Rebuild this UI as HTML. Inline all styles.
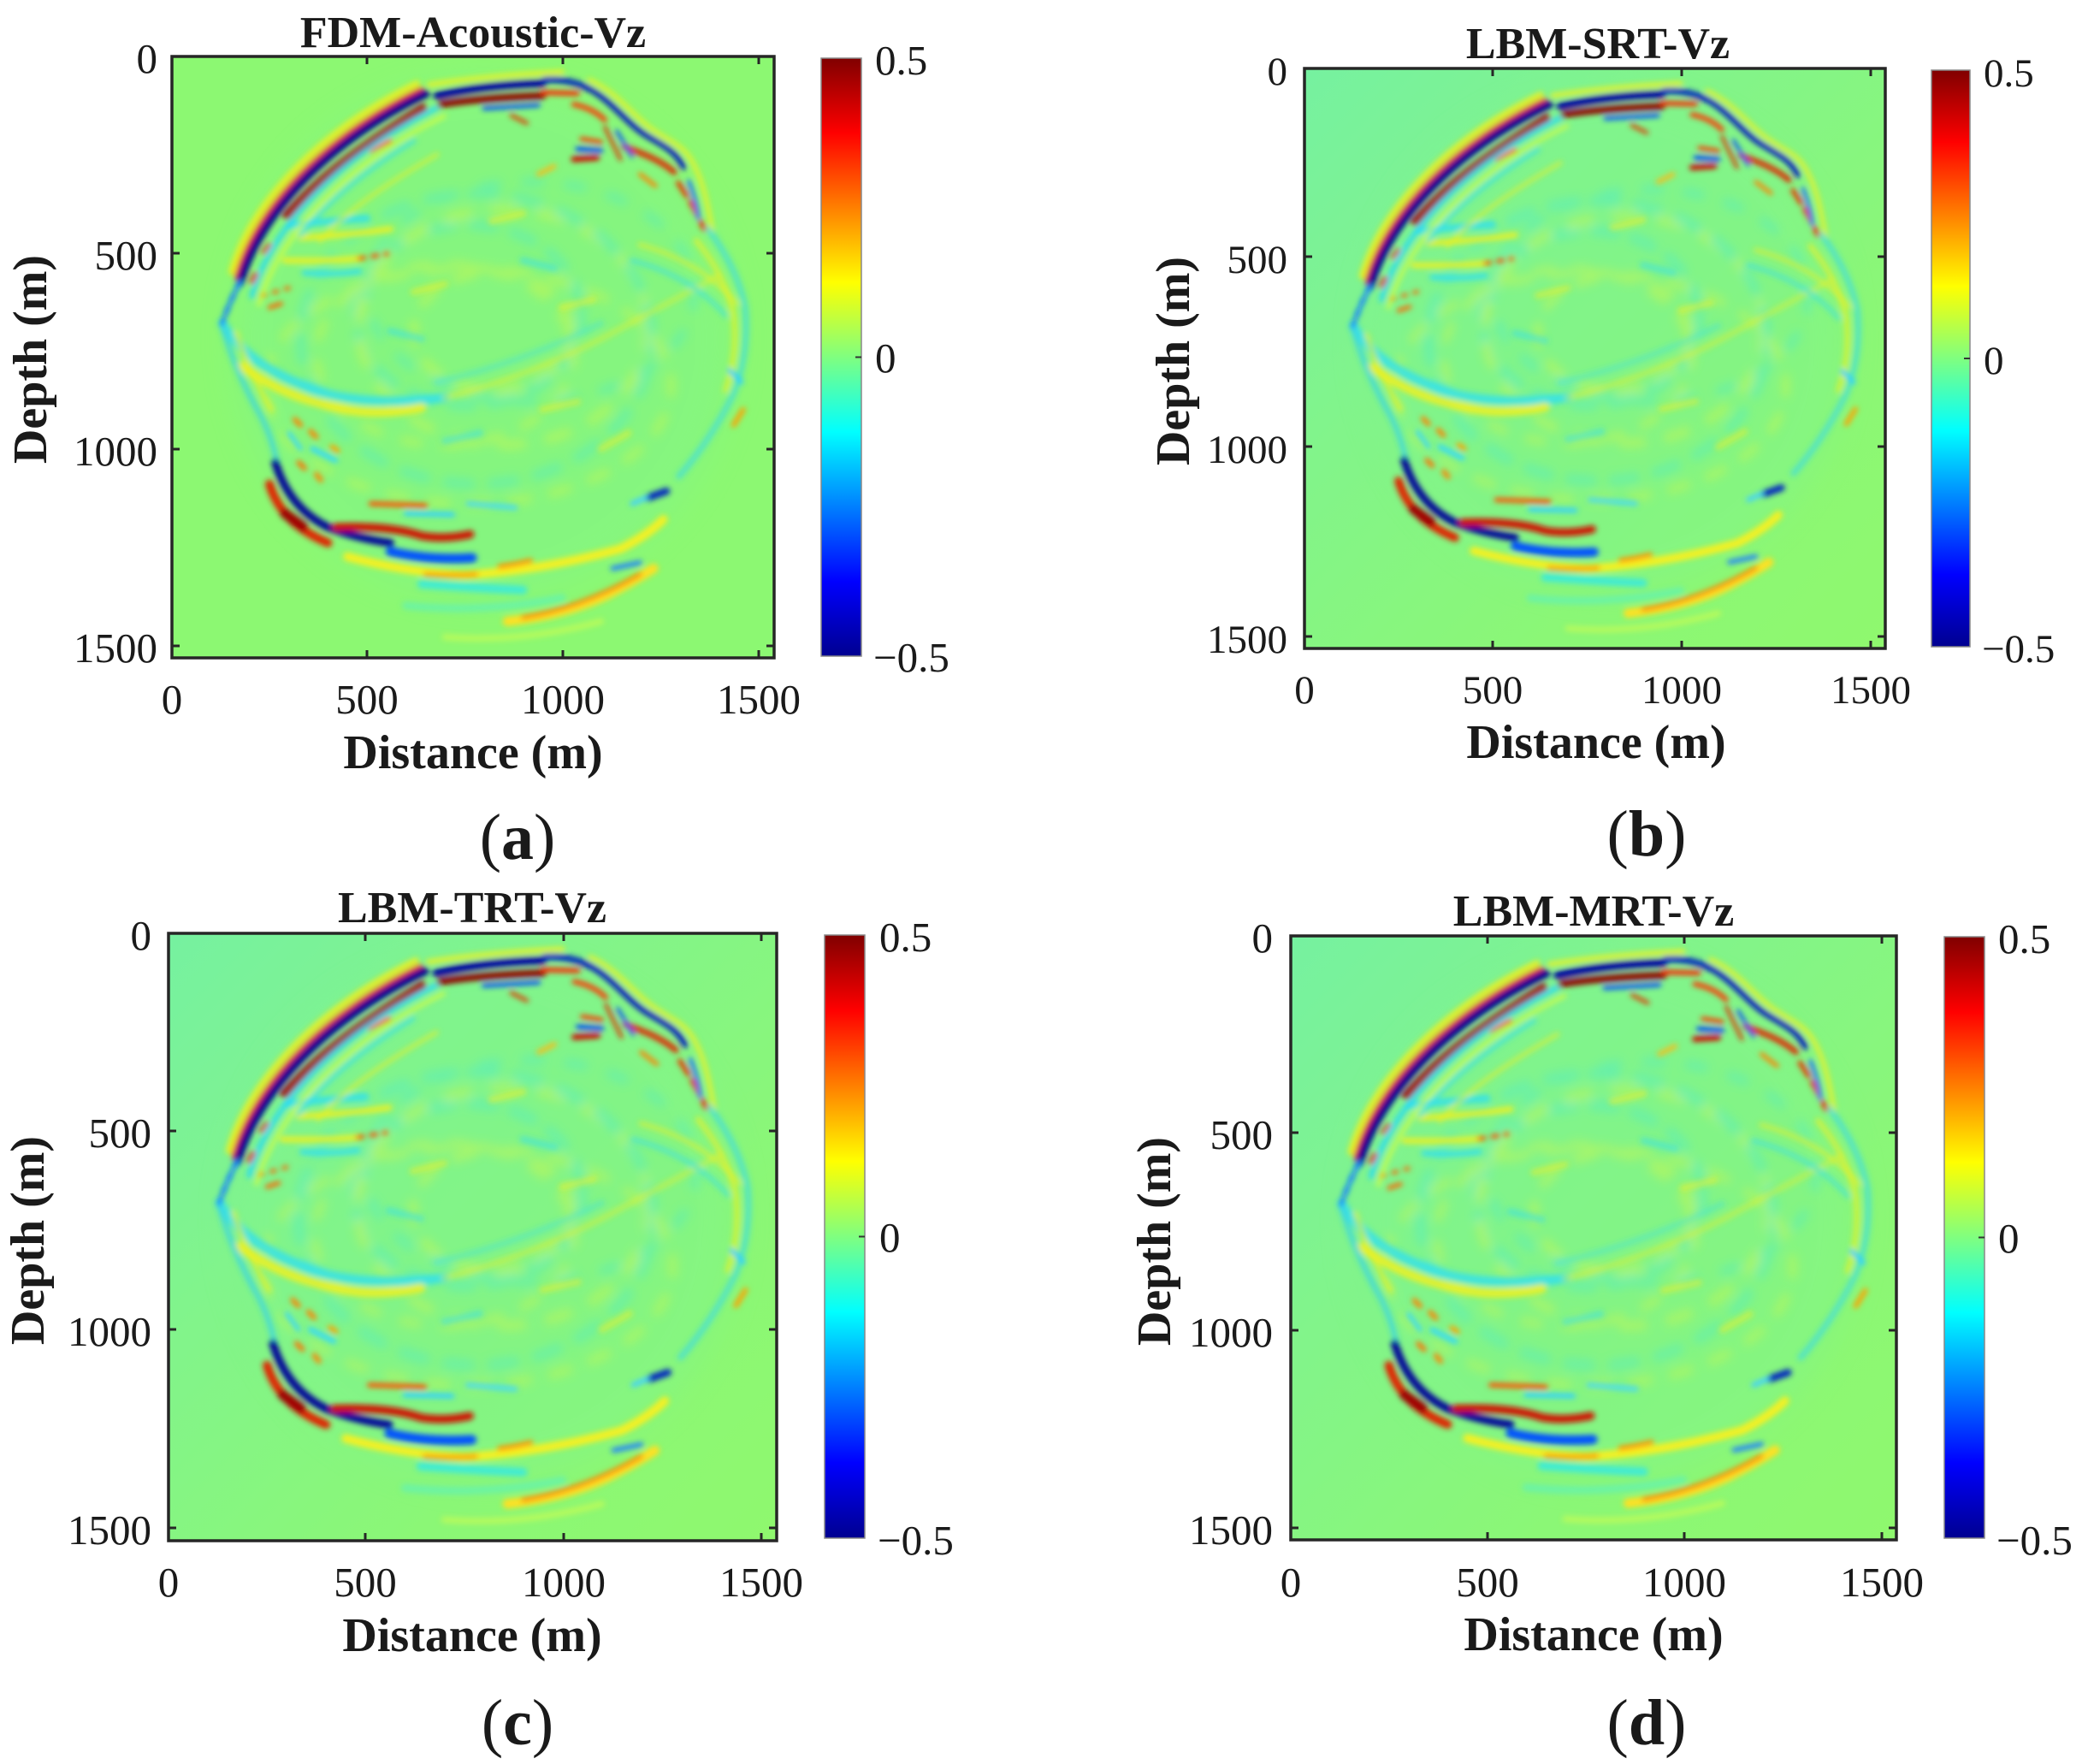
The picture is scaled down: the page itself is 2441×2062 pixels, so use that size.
<!DOCTYPE html>
<html><head><meta charset="utf-8"><style>
html,body{margin:0;padding:0;background:#fff;}
svg{display:block;}
text{font-family:"Liberation Serif","Times New Roman",serif;fill:#1a1a1a;}
.t{font-size:49px;}
.tb{font-size:47px;}
.ttl{font-size:52px;font-weight:bold;}
.ax{font-size:56px;font-weight:bold;}
.sub{font-size:76px;}
</style></head><body>
<svg width="2441" height="2062" viewBox="0 0 2441 2062" xmlns="http://www.w3.org/2000/svg">
<defs>
<linearGradient id="jet" x1="0" y1="1" x2="0" y2="0">
<stop offset="0" stop-color="#000090"/>
<stop offset="0.125" stop-color="#0000ff"/>
<stop offset="0.375" stop-color="#00ffff"/>
<stop offset="0.625" stop-color="#ffff00"/>
<stop offset="0.875" stop-color="#ff0000"/>
<stop offset="1" stop-color="#800000"/>
</linearGradient>
<linearGradient id="bgB" x1="0" y1="0" x2="1" y2="1">
<stop offset="0" stop-color="#76f1a0"/>
<stop offset="0.35" stop-color="#82f48a"/>
<stop offset="0.7" stop-color="#8bf776"/>
<stop offset="1" stop-color="#8ff86e"/>
</linearGradient>
<filter id="bl" x="-5%" y="-5%" width="110%" height="110%"><feGaussianBlur stdDeviation="7"/></filter>
<filter id="bl3" x="-5%" y="-5%" width="110%" height="110%"><feGaussianBlur stdDeviation="13"/></filter>
<filter id="bl2" x="-20%" y="-20%" width="140%" height="140%"><feGaussianBlur stdDeviation="40"/></filter>
<g id="fld">
<ellipse cx="800" cy="720" rx="640" ry="660" fill="#80f48c" opacity="0.5" filter="url(#bl2)"/>
<!-- mottled interior texture -->
<g filter="url(#bl3)" fill="none" stroke-linecap="round" opacity="0.32">
 <ellipse cx="820" cy="700" rx="200" ry="150" stroke="#eef830" stroke-width="26" stroke-dasharray="45 60"/>
 <ellipse cx="760" cy="660" rx="290" ry="230" stroke="#38e8e8" stroke-width="26" stroke-dasharray="55 50" stroke-dashoffset="20"/>
 <ellipse cx="850" cy="690" rx="370" ry="300" stroke="#eef830" stroke-width="26" stroke-dasharray="50 70"/>
 <ellipse cx="780" cy="720" rx="450" ry="370" stroke="#38e8e8" stroke-width="26" stroke-dasharray="60 55" stroke-dashoffset="30"/>
 <ellipse cx="700" cy="760" rx="330" ry="230" stroke="#eef830" stroke-width="22" stroke-dasharray="40 65" stroke-dashoffset="15"/>
 <ellipse cx="920" cy="600" rx="420" ry="280" stroke="#38e8e8" stroke-width="22" stroke-dasharray="40 70"/>
 <ellipse cx="760" cy="840" rx="520" ry="300" stroke="#eef830" stroke-width="22" stroke-dasharray="45 60" stroke-dashoffset="25"/>
</g>
<g filter="url(#bl)" fill="none" stroke-linecap="round">
 <!-- random interior dashes -->
 <g stroke-width="18" opacity="0.5">
  <path d="M620 600 L700 580" stroke="#f0f020"/>
  <path d="M900 520 L980 540" stroke="#30e0f0"/>
  <path d="M1000 640 L1080 620" stroke="#f0f020"/>
  <path d="M700 980 L790 960" stroke="#30e0f0"/>
  <path d="M950 900 L1040 880" stroke="#f0f020"/>
  <path d="M560 700 L640 720" stroke="#30e0f0"/>
  <path d="M1100 1000 L1170 960" stroke="#f0f020"/>
  <path d="M820 420 L900 400" stroke="#f0f020"/>
 </g>
 <!-- upper-left interior bands -->
 <path d="M300 430 Q400 420 500 412" stroke="#30e0f0" stroke-width="18" opacity="0.85"/>
 <path d="M330 462 Q450 456 560 440" stroke="#f0f020" stroke-width="16" opacity="0.85"/>
 <path d="M290 520 Q400 522 480 515" stroke="#f0f020" stroke-width="16" opacity="0.85"/>
 <path d="M480 515 L552 503" stroke="#ff5000" stroke-width="10" stroke-dasharray="14 20"/>
 <path d="M340 552 Q420 557 480 548" stroke="#30e0f0" stroke-width="16" opacity="0.8"/>
 <path d="M330 455 C390 380 480 300 620 215" stroke="#30e0f0" stroke-width="14" opacity="0.6"/>
 <path d="M380 470 C440 400 540 330 680 250" stroke="#f0f020" stroke-width="12" opacity="0.55"/>
 <path d="M510 240 L560 215" stroke="#ff5000" stroke-width="10"/>
 <path d="M230 610 L300 590" stroke="#ff6000" stroke-width="9" stroke-dasharray="10 22"/>
 <path d="M250 640 L280 630" stroke="#ff6000" stroke-width="10"/>
 <!-- big U -->
 <path d="M130 680 Q200 800 400 860 Q520 890 700 870" stroke="#30e0f0" stroke-width="24" opacity="0.8"/>
 <path d="M180 790 Q300 880 480 905 Q560 912 640 895" stroke="#f0f020" stroke-width="24" opacity="0.85"/>
 <path d="M700 870 Q900 820 1100 720 Q1250 640 1400 560" stroke="#f0f020" stroke-width="16" opacity="0.4"/>
 <path d="M680 830 Q900 780 1100 680" stroke="#30e0f0" stroke-width="16" opacity="0.35"/>
 <!-- main front: top-left -->
 <path d="M175 575 C220 410 390 220 650 95" transform="translate(-22,-26)" stroke="#f0f020" stroke-width="16" opacity="0.9"/>
 <path d="M175 575 C220 410 390 220 650 95" transform="translate(-11,-13)" stroke="#ff2a00" stroke-width="10"/>
 <path d="M175 575 C220 410 390 220 650 95" stroke="#000090" stroke-width="22"/>
 <path d="M290 400 C360 320 450 240 640 125" transform="translate(4,6)" stroke="#a00000" stroke-width="20"/>
 <path d="M175 575 C220 410 390 220 650 95" transform="translate(30,36)" stroke="#20d8ff" stroke-width="14" opacity="0.8"/>
 <path d="M175 575 C220 410 390 220 650 95" transform="translate(48,57)" stroke="#e8ff30" stroke-width="12" opacity="0.6"/>
 <path d="M175 575 Q150 620 128 682" stroke="#1080ff" stroke-width="12" stroke-dasharray="22 12"/>
 <path d="M205 575 L215 555" stroke="#e02000" stroke-width="12"/>
 <path d="M235 500 L250 480" stroke="#e02000" stroke-width="10"/>
 <!-- top segment -->
 <path d="M660 72 Q800 50 1000 40" stroke="#f0f020" stroke-width="14" opacity="0.8"/>
 <path d="M680 100 Q800 72 950 68" stroke="#0000a0" stroke-width="20"/>
 <path d="M690 122 Q800 105 950 100" stroke="#900000" stroke-width="18"/>
 <path d="M800 132 L940 124" stroke="#0040ff" stroke-width="10"/>
 <path d="M870 150 L910 170" stroke="#e03000" stroke-width="9"/>
 <path d="M955 60 Q1015 56 1065 80" stroke="#0020c0" stroke-width="16"/>
 <path d="M950 92 L1040 94" stroke="#ff2000" stroke-width="12"/>
 <path d="M1030 122 Q1080 132 1110 162" stroke="#ff3000" stroke-width="12"/>
 <!-- right shoulder (smooth) -->
 <path d="M1070 60 C1140 90 1180 150 1230 185 S1310 225 1335 270 S1370 360 1385 440" stroke="#f0f020" stroke-width="12" opacity="0.8"/>
 <path d="M1062 78 C1125 108 1165 170 1215 200 S1290 240 1312 282" stroke="#0010c0" stroke-width="14"/>
 <path d="M1160 230 C1200 245 1250 262 1288 295" stroke="#e02000" stroke-width="14"/>
 <path d="M1298 322 Q1335 375 1365 440" stroke="#e83000" stroke-width="12" stroke-dasharray="40 18"/>
 <path d="M1325 318 Q1345 370 1350 412" stroke="#2070ff" stroke-width="10"/>
 <path d="M1030 262 L1090 258" stroke="#d00000" stroke-width="14"/>
 <path d="M1040 236 L1100 240" stroke="#0040ff" stroke-width="12"/>
 <path d="M1050 210 L1100 218" stroke="#ff3000" stroke-width="10"/>
 <path d="M1110 180 L1150 262" stroke="#e02000" stroke-width="8"/>
 <path d="M1140 190 L1180 255" stroke="#1040ff" stroke-width="8"/>
 <path d="M940 300 L980 280" stroke="#f0c020" stroke-width="12"/>
 <path d="M1200 300 L1240 330" stroke="#ff8000" stroke-width="10"/>
 <!-- right outer -->
 <path d="M1375 440 Q1450 540 1470 640 Q1480 760 1440 860 Q1380 980 1300 1070" stroke="#30d8f0" stroke-width="16" opacity="0.6"/>
 <path d="M1345 470 Q1420 560 1440 660 Q1452 760 1420 850" stroke="#f0f020" stroke-width="16" opacity="0.6"/>
 <path d="M1200 480 Q1350 520 1450 630" stroke="#f0f020" stroke-width="14" opacity="0.5"/>
 <path d="M1180 520 Q1330 560 1420 660" stroke="#30e0f0" stroke-width="14" opacity="0.5"/>
 <path d="M1440 940 L1465 900" stroke="#ffa000" stroke-width="12"/>
 <path d="M1430 800 L1460 830" stroke="#30d0ff" stroke-width="12"/>
 <!-- left outer lower -->
 <path d="M130 690 Q160 800 230 920 Q260 980 270 1040" stroke="#30d0f0" stroke-width="14" opacity="0.7"/>
 <path d="M165 705 Q195 800 255 900" stroke="#f0f020" stroke-width="14" opacity="0.6"/>
 <!-- lower-left dots -->
 <path d="M315 925 L330 940" stroke="#ff8000" stroke-width="12"/>
 <path d="M355 955 L370 970" stroke="#ff8000" stroke-width="12"/>
 <path d="M325 1035 L340 1050" stroke="#ff7000" stroke-width="12"/>
 <path d="M370 1065 L382 1080" stroke="#ff8000" stroke-width="12"/>
 <path d="M410 995 L425 1005" stroke="#ffa000" stroke-width="12"/>
 <path d="M360 1000 L420 1030" stroke="#30d8ff" stroke-width="12"/>
 <path d="M300 960 L330 1000" stroke="#30d8ff" stroke-width="10"/>
 <!-- bottom-left strong -->
 <path d="M250 1090 Q280 1190 400 1240" stroke="#e02000" stroke-width="22"/>
 <path d="M290 1165 L335 1198" stroke="#a00000" stroke-width="26"/>
 <path d="M265 1035 Q300 1150 400 1200 Q480 1230 560 1240" stroke="#00009a" stroke-width="20"/>
 <path d="M420 1200 Q560 1195 640 1222 Q700 1232 765 1218" stroke="#d01000" stroke-width="20"/>
 <path d="M560 1262 Q660 1285 770 1278" stroke="#0050ff" stroke-width="24"/>
 <path d="M510 1140 L650 1145" stroke="#ff5000" stroke-width="12"/>
 <path d="M600 1165 L720 1168" stroke="#30d0ff" stroke-width="12"/>
 <path d="M760 1140 L880 1150" stroke="#40d8ff" stroke-width="14" opacity="0.8"/>
 <path d="M450 1275 Q600 1315 750 1322 Q950 1310 1150 1255 Q1220 1220 1260 1180" stroke="#f5f020" stroke-width="22"/>
 <path d="M650 1320 Q720 1325 780 1320" stroke="#ffa000" stroke-width="12"/>
 <path d="M840 1300 Q880 1295 920 1285" stroke="#ff9000" stroke-width="12"/>
 <path d="M640 1345 Q780 1355 900 1360" stroke="#30e8e8" stroke-width="22" opacity="0.8"/>
 <path d="M860 1440 Q1000 1425 1110 1375 Q1180 1340 1235 1305" stroke="#ffe020" stroke-width="24"/>
 <path d="M900 1430 Q1050 1405 1200 1320" stroke="#ff8000" stroke-width="10"/>
 <path d="M600 1400 Q800 1420 1000 1380" stroke="#50f0d0" stroke-width="20" opacity="0.5"/>
 <path d="M700 1480 Q900 1495 1100 1440" stroke="#e8ff40" stroke-width="16" opacity="0.45"/>
 <path d="M1130 1305 L1200 1290" stroke="#2080ff" stroke-width="12"/>
 <path d="M1220 1125 L1268 1108" stroke="#0020c0" stroke-width="18"/>
 <path d="M1180 1140 L1215 1125" stroke="#40d0ff" stroke-width="12"/>
</g>
</g>
</defs>

<!-- ============ Panel (a) ============ -->
<svg x="201" y="66" width="704" height="703" viewBox="0 0 1544 1533" preserveAspectRatio="none">
<rect x="0" y="0" width="1544" height="1533" fill="#8cf872"/>
<use href="#fld"/>
</svg>
<rect x="201" y="66" width="704" height="703" fill="none" stroke="#262626" stroke-width="3.5"/>
<g stroke="#262626" stroke-width="3">
<line x1="429" y1="769" x2="429" y2="760"/><line x1="658" y1="769" x2="658" y2="760"/><line x1="887" y1="769" x2="887" y2="760"/>
<line x1="429" y1="66" x2="429" y2="75"/><line x1="658" y1="66" x2="658" y2="75"/><line x1="887" y1="66" x2="887" y2="75"/>
<line x1="201" y1="296" x2="210" y2="296"/><line x1="201" y1="525" x2="210" y2="525"/><line x1="201" y1="755" x2="210" y2="755"/>
<line x1="905" y1="296" x2="896" y2="296"/><line x1="905" y1="525" x2="896" y2="525"/><line x1="905" y1="755" x2="896" y2="755"/>
</g>
<g class="t" text-anchor="middle">
<text x="201" y="834">0</text><text x="429" y="834">500</text><text x="658" y="834">1000</text><text x="887" y="834">1500</text>
</g>
<g class="t" text-anchor="end">
<text x="184" y="85">0</text><text x="184" y="315">500</text><text x="184" y="544">1000</text><text x="184" y="774">1500</text>
</g>
<rect x="960" y="68" width="47" height="699" fill="url(#jet)" stroke="#888" stroke-width="1.5"/>
<line x1="1000" y1="417.5" x2="1007" y2="417.5" stroke="#333" stroke-width="2"/>
<g class="t"><text x="1023" y="87">0.5</text><text x="1023" y="435">0</text><text x="1021" y="785">−0.5</text></g>
<text class="ttl" x="553" y="55" text-anchor="middle">FDM-Acoustic-Vz</text>
<text class="ax" x="553" y="898" text-anchor="middle">Distance (m)</text>
<text class="ax" transform="translate(54,420) rotate(-90)" text-anchor="middle">Depth (m)</text>
<text class="sub" x="605" y="1004" text-anchor="middle">(<tspan font-weight="bold">a</tspan>)</text>

<!-- ============ Panel (b) ============ -->
<svg x="1525" y="80" width="679" height="678" viewBox="0 0 1544 1533" preserveAspectRatio="none">
<rect x="0" y="0" width="1544" height="1533" fill="url(#bgB)"/>
<use href="#fld"/>
</svg>
<rect x="1525" y="80" width="679" height="678" fill="none" stroke="#262626" stroke-width="3.5"/>
<g stroke="#262626" stroke-width="3">
<line x1="1745" y1="758" x2="1745" y2="749"/><line x1="1966" y1="758" x2="1966" y2="749"/><line x1="2187" y1="758" x2="2187" y2="749"/>
<line x1="1745" y1="80" x2="1745" y2="89"/><line x1="1966" y1="80" x2="1966" y2="89"/><line x1="2187" y1="80" x2="2187" y2="89"/>
<line x1="1525" y1="300" x2="1534" y2="300"/><line x1="1525" y1="522" x2="1534" y2="522"/><line x1="1525" y1="744" x2="1534" y2="744"/>
<line x1="2204" y1="300" x2="2195" y2="300"/><line x1="2204" y1="522" x2="2195" y2="522"/><line x1="2204" y1="744" x2="2195" y2="744"/>
</g>
<g class="tb" text-anchor="middle">
<text x="1525" y="822">0</text><text x="1745" y="822">500</text><text x="1966" y="822">1000</text><text x="2187" y="822">1500</text>
</g>
<g class="tb" text-anchor="end">
<text x="1505" y="99">0</text><text x="1505" y="319">500</text><text x="1505" y="541">1000</text><text x="1505" y="763">1500</text>
</g>
<rect x="2258" y="82" width="45" height="674" fill="url(#jet)" stroke="#888" stroke-width="1.5"/>
<line x1="2296" y1="419" x2="2303" y2="419" stroke="#333" stroke-width="2"/>
<g class="tb"><text x="2319" y="101">0.5</text><text x="2319" y="437">0</text><text x="2317" y="774">−0.5</text></g>
<text class="ttl" x="1868" y="68" text-anchor="middle">LBM-SRT-Vz</text>
<text class="ax" x="1866" y="886" text-anchor="middle">Distance (m)</text>
<text class="ax" transform="translate(1390,422) rotate(-90)" text-anchor="middle">Depth (m)</text>
<text class="sub" x="1925" y="1000" text-anchor="middle">(<tspan font-weight="bold">b</tspan>)</text>

<!-- ============ Panel (c) ============ -->
<svg x="197" y="1091" width="711" height="710" viewBox="0 0 1544 1533" preserveAspectRatio="none">
<rect x="0" y="0" width="1544" height="1533" fill="url(#bgB)"/>
<use href="#fld"/>
</svg>
<rect x="197" y="1091" width="711" height="710" fill="none" stroke="#262626" stroke-width="3.5"/>
<g stroke="#262626" stroke-width="3">
<line x1="427" y1="1801" x2="427" y2="1792"/><line x1="659" y1="1801" x2="659" y2="1792"/><line x1="890" y1="1801" x2="890" y2="1792"/>
<line x1="427" y1="1091" x2="427" y2="1100"/><line x1="659" y1="1091" x2="659" y2="1100"/><line x1="890" y1="1091" x2="890" y2="1100"/>
<line x1="197" y1="1322" x2="206" y2="1322"/><line x1="197" y1="1554" x2="206" y2="1554"/><line x1="197" y1="1786" x2="206" y2="1786"/>
<line x1="908" y1="1322" x2="899" y2="1322"/><line x1="908" y1="1554" x2="899" y2="1554"/><line x1="908" y1="1786" x2="899" y2="1786"/>
</g>
<g class="t" text-anchor="middle">
<text x="197" y="1866">0</text><text x="427" y="1866">500</text><text x="659" y="1866">1000</text><text x="890" y="1866">1500</text>
</g>
<g class="t" text-anchor="end">
<text x="177" y="1110">0</text><text x="177" y="1341">500</text><text x="177" y="1573">1000</text><text x="177" y="1805">1500</text>
</g>
<rect x="964" y="1093" width="47" height="705" fill="url(#jet)" stroke="#888" stroke-width="1.5"/>
<line x1="1004" y1="1445.5" x2="1011" y2="1445.5" stroke="#333" stroke-width="2"/>
<g class="t"><text x="1028" y="1112">0.5</text><text x="1028" y="1463">0</text><text x="1026" y="1817">−0.5</text></g>
<text class="ttl" x="552" y="1078" text-anchor="middle">LBM-TRT-Vz</text>
<text class="ax" x="552" y="1930" text-anchor="middle">Distance (m)</text>
<text class="ax" transform="translate(51,1450) rotate(-90)" text-anchor="middle">Depth (m)</text>
<text class="sub" x="605" y="2039" text-anchor="middle">(<tspan font-weight="bold">c</tspan>)</text>

<!-- ============ Panel (d) ============ -->
<svg x="1509" y="1094" width="708" height="706" viewBox="0 0 1544 1533" preserveAspectRatio="none">
<rect x="0" y="0" width="1544" height="1533" fill="url(#bgB)"/>
<use href="#fld"/>
</svg>
<rect x="1509" y="1094" width="708" height="706" fill="none" stroke="#262626" stroke-width="3.5"/>
<g stroke="#262626" stroke-width="3">
<line x1="1739" y1="1800" x2="1739" y2="1791"/><line x1="1969" y1="1800" x2="1969" y2="1791"/><line x1="2200" y1="1800" x2="2200" y2="1791"/>
<line x1="1739" y1="1094" x2="1739" y2="1103"/><line x1="1969" y1="1094" x2="1969" y2="1103"/><line x1="2200" y1="1094" x2="2200" y2="1103"/>
<line x1="1509" y1="1324" x2="1518" y2="1324"/><line x1="1509" y1="1555" x2="1518" y2="1555"/><line x1="1509" y1="1786" x2="1518" y2="1786"/>
<line x1="2217" y1="1324" x2="2208" y2="1324"/><line x1="2217" y1="1555" x2="2208" y2="1555"/><line x1="2217" y1="1786" x2="2208" y2="1786"/>
</g>
<g class="t" text-anchor="middle">
<text x="1509" y="1866">0</text><text x="1739" y="1866">500</text><text x="1969" y="1866">1000</text><text x="2200" y="1866">1500</text>
</g>
<g class="t" text-anchor="end">
<text x="1488" y="1113">0</text><text x="1488" y="1343">500</text><text x="1488" y="1574">1000</text><text x="1488" y="1805">1500</text>
</g>
<rect x="2273" y="1095" width="47" height="703" fill="url(#jet)" stroke="#888" stroke-width="1.5"/>
<line x1="2313" y1="1446.5" x2="2320" y2="1446.5" stroke="#333" stroke-width="2"/>
<g class="t"><text x="2336" y="1114">0.5</text><text x="2336" y="1464">0</text><text x="2334" y="1817">−0.5</text></g>
<text class="ttl" x="1863" y="1082" text-anchor="middle">LBM-MRT-Vz</text>
<text class="ax" x="1863" y="1929" text-anchor="middle">Distance (m)</text>
<text class="ax" transform="translate(1368,1451) rotate(-90)" text-anchor="middle">Depth (m)</text>
<text class="sub" x="1925" y="2039" text-anchor="middle">(<tspan font-weight="bold">d</tspan>)</text>
</svg>
</body></html>
